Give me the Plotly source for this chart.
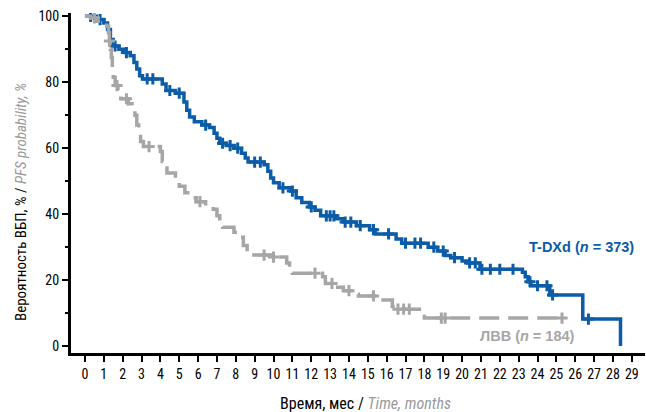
import plotly.graph_objects as go
import numpy as np

# ---- data ----
tdxd_t = [0, 0.6, 1.0, 1.2, 1.35, 1.5, 1.8, 2.1, 2.4, 2.6, 2.75, 2.9, 3.05, 4.1, 4.3, 4.8,
          5.25, 5.4, 5.55, 5.8, 6.2, 6.6, 6.85, 7.0, 7.15, 7.5, 7.9, 8.3, 8.5, 8.65, 9.5,
          9.7, 9.85, 10.0, 10.3, 10.9, 11.2, 11.5, 11.9, 12.2, 12.5, 13.3, 13.7, 14.4, 15.1,
          15.4, 16.5, 16.8, 18.2, 18.7, 19.1, 19.4, 20.0, 20.3, 20.95, 23.2, 23.35, 23.5,
          23.65, 24.65, 26.4, 28.4]
tdxd_s = [100, 99, 98, 96, 93, 91, 90, 89, 88, 86, 84, 82, 81, 79.5, 77.5, 76.7,
          74, 71.5, 69.5, 68, 67, 66.3, 64.5, 63, 61.5, 60.8, 60, 58.5, 57, 55.8, 55,
          53, 51, 49.5, 48, 47, 45, 43.5, 42.2, 41.2, 39.5, 38.6, 37.6, 36.5, 35.3,
          34, 32.5, 31.2, 30, 28.8, 27.5, 26.8, 25.8, 25.2, 23.3, 22.4, 21, 19.5,
          18.3, 15.5, 8.2, 0]
tdxd_cens = [0.3, 0.8, 1.6, 2.2, 3.3, 3.6, 4.5, 5.0, 6.4, 7.3, 7.7, 8.1, 9.0, 9.3, 10.5, 11.0,
             12.0, 12.8, 13.0, 13.2, 13.8, 14.1, 14.6, 15.3, 16.1, 17.0, 17.5, 17.8, 18.5,
             19.0, 19.6, 20.4, 20.7, 21.05, 21.5, 22.0, 22.7, 23.6, 24.0, 24.5, 24.8, 26.7]

lvv_t = [0, 0.3, 0.6, 1.15, 1.25, 1.3, 1.35, 1.4, 1.45, 1.5, 1.6, 1.75, 1.9, 2.3, 2.5, 2.65,
         2.75, 2.85, 2.95, 3.1, 4.0, 4.1, 4.2, 4.35, 4.8, 5.0, 5.3, 5.6, 5.9, 6.4, 6.8, 7.0,
         7.15, 7.3, 7.9, 8.15, 8.4, 8.6, 8.8, 9.9, 10.7, 10.85, 11.0, 12.6, 12.75, 13.3, 13.7,
         14.2, 14.5, 15.5, 16.3, 16.5, 18.0, 25.3]
lvv_s = [100, 99.5, 98.5, 97, 95, 92.5, 90, 87.5, 84.5, 81.5, 79, 76.5, 75, 73.5, 72, 70,
         67, 64.5, 62, 60.5, 59, 56, 54, 52.5, 50, 48.5, 46.5, 45, 43.8, 42.5, 41.5, 39.5,
         37.5, 36, 34.5, 33, 30.5, 28.5, 27.6, 27, 25.2, 23.5, 22.1, 21, 19, 17.8, 16.8,
         15.7, 15.2, 14, 12, 11.2, 8.5, 8.5]
lvv_cens = [0.5, 1.3, 1.7, 2.2, 3.4, 6.1, 9.5, 10.0, 12.2, 13.1, 14.0, 15.3, 16.6, 16.9,
            17.2, 18.9, 19.1, 25.3]

x_ticks = list(range(0, 30))
y_ticks = [0, 20, 40, 60, 80, 100]

BLUE = "#0c5ca8"
GRAY = "#a6a6a6"
COND = "Roboto Condensed, Liberation Sans Narrow, sans-serif"


def step_value(ts, ss, x):
    idx = np.searchsorted(ts, x, side="right") - 1
    return ss[max(idx, 0)]


fig = go.Figure()
fig.add_trace(go.Scatter(x=tdxd_t, y=tdxd_s, mode="lines", line_shape="hv",
                         line=dict(color=BLUE, width=3.5), hoverinfo="skip"))
fig.add_trace(go.Scatter(x=tdxd_cens, y=[step_value(tdxd_t, tdxd_s, c) for c in tdxd_cens],
                         mode="markers",
                         marker=dict(symbol="cross-thin", size=8, line=dict(color=BLUE, width=3)),
                         hoverinfo="skip"))
fig.add_trace(go.Scatter(x=lvv_t, y=lvv_s, mode="lines", line_shape="hv",
                         line=dict(color=GRAY, width=3.5, dash="20px,9px"), hoverinfo="skip"))
fig.add_trace(go.Scatter(x=lvv_cens, y=[step_value(lvv_t, lvv_s, c) for c in lvv_cens],
                         mode="markers",
                         marker=dict(symbol="cross-thin", size=8, line=dict(color=GRAY, width=3)),
                         hoverinfo="skip"))

L, R, T, B = 71, 1, 13, 59
W, H = 646, 412
pw, ph = W - L - R, H - T - B


def px(xp):
    return (xp - L) / pw


def py(yp):
    return (H - B - yp) / ph


fig.update_layout(
    width=W, height=H, showlegend=False,
    margin=dict(l=L, r=R, t=T, b=B, pad=0),
    paper_bgcolor="white", plot_bgcolor="white",
    xaxis=dict(range=[-0.74, 29.7], tickvals=x_ticks, ticktext=[str(v) for v in x_ticks],
               ticks="outside", ticklen=6, tickwidth=2, tickcolor="black",
               showline=True, linewidth=3, linecolor="black", showgrid=False, zeroline=False,
               tickfont=dict(family=COND, size=14, color="black")),
    yaxis=dict(range=[-2.1, 101], tickvals=y_ticks, ticktext=[str(v) for v in y_ticks],
               ticks="outside", ticklen=6, tickwidth=2, tickcolor="black",
               minor=dict(dtick=10, tick0=0, ticks="outside", ticklen=3, tickwidth=2, tickcolor="black"),
               showline=True, linewidth=3, linecolor="black", showgrid=False, zeroline=False,
               tickfont=dict(family=COND, size=14, color="black")),
    annotations=[
        dict(x=29.23, y=30, xref="x", yref="y", xanchor="right", yanchor="middle",
             text="<b>T-DXd (<i>n</i> = 373)</b>", showarrow=False,
             font=dict(family="Liberation Sans, Arial, sans-serif", size=14.5, color=BLUE)),
        dict(x=26.1, y=3.0, xref="x", yref="y", xanchor="right", yanchor="middle",
             text="<b>ЛВВ (<i>n</i> = 184)</b>", showarrow=False,
             font=dict(family="Liberation Sans, Arial, sans-serif", size=14.5, color=GRAY)),
        dict(x=px(365), y=py(403), xref="paper", yref="paper", xanchor="center", yanchor="middle",
             text="Время, мес / <span style='color:#9a9a9a'><i>Time, months</i></span>",
             showarrow=False, font=dict(family=COND, size=16, color="black")),
        dict(x=px(21), y=py(202), xref="paper", yref="paper", xanchor="center", yanchor="middle",
             textangle=-90,
             text="Вероятность ВБП, % / <span style='color:#9a9a9a'><i>PFS probability, %</i></span>",
             showarrow=False, font=dict(family=COND, size=15, color="black")),
    ],
)

fig.write_html("out.html", config={"displayModeBar": False},
               post_script="document.body.style.margin='0';")
